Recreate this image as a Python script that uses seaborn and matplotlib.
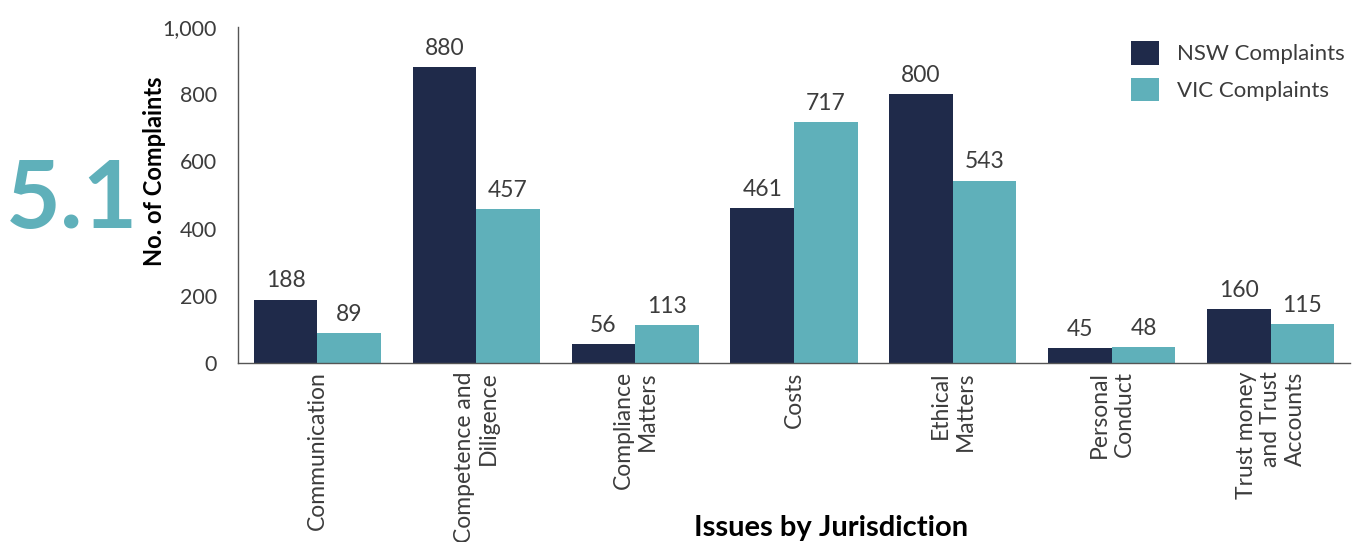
import matplotlib
matplotlib.use("Agg")
import matplotlib.pyplot as plt
import matplotlib.ticker as mticker
import seaborn as sns
import pandas as pd

categories = ["Communication", "Competence and\nDiligence", "Compliance\nMatters", "Costs",
              "Ethical\nMatters", "Personal\nConduct", "Trust money\nand Trust\nAccounts"]
nsw_values = [188, 880, 56, 461, 800, 45, 160]
vic_values = [89, 457, 113, 717, 543, 48, 115]
series_names = ["NSW Complaints", "VIC Complaints"]
y_ticks = [0, 200, 400, 600, 800, 1000]

NSW_COLOR = "#1f2a4a"
VIC_COLOR = "#5fb0ba"
TEXT = "#3c3c3c"
WEIGHT = "normal"

df = pd.DataFrame({
    "Issue": categories * 2,
    "Complaints": nsw_values + vic_values,
    "Jurisdiction": [series_names[0]] * len(categories) + [series_names[1]] * len(categories),
})

sns.set_style("white")
plt.rcParams["font.family"] = ["Lato", "DejaVu Sans"]

fig = plt.figure(figsize=(13.57, 5.42), dpi=100)
W, H = 1357, 542
ax = fig.add_axes([238 / W, 1 - 363 / H, (1350 - 238) / W, (363 - 27) / H])

sns.barplot(data=df, x="Issue", y="Complaints", hue="Jurisdiction",
            order=categories, hue_order=series_names,
            palette=[NSW_COLOR, VIC_COLOR], saturation=1, width=0.8,
            errorbar=None, linewidth=0, ax=ax)

ax.set_xlim(-0.5, len(categories) - 0.5)
ax.set_ylim(0, 1000)
ax.set_yticks(y_ticks)
ax.yaxis.set_major_formatter(mticker.StrMethodFormatter("{x:,.0f}"))
ax.tick_params(axis="y", length=0, pad=15, labelsize=15.5, labelcolor=TEXT)
ax.tick_params(axis="x", length=0, pad=6, labelsize=16.5, labelcolor=TEXT)
for lbl in ax.get_yticklabels():
    lbl.set_fontweight(WEIGHT)
for lbl in ax.get_xticklabels():
    lbl.set_rotation(90)
    lbl.set_multialignment("right")
    lbl.set_fontweight(WEIGHT)
    lbl.set_ha("center")
    lbl.set_va("top")

ax.set_xlabel("")
ax.set_ylabel("")
for side in ["top", "right"]:
    ax.spines[side].set_visible(False)
for side in ["left", "bottom"]:
    ax.spines[side].set_color("#555555")
    ax.spines[side].set_linewidth(1.0)

for cont in ax.containers:
    ax.bar_label(cont, padding=6, fontsize=16.5, color=TEXT, fontweight=WEIGHT)

leg = ax.legend(loc="upper left", bbox_to_anchor=(1131 / W, 1 - 41 / H),
                bbox_transform=fig.transFigure, frameon=False, borderpad=0,
                borderaxespad=0, fontsize=16, handlelength=1.25, handleheight=1.25,
                handletextpad=0.8, labelspacing=0.6)
for t in leg.get_texts():
    t.set_color(TEXT)
    t.set_fontweight(WEIGHT)

fig.text(72 / W, 1 - 228 / H, "5.1", color=VIC_COLOR, fontsize=68,
         fontweight="bold", ha="center", va="baseline")
fig.text(155 / W, 1 - 171 / H, "No. of Complaints", rotation=90, fontsize=17,
         fontweight="bold", color="black", ha="center", va="center")
fig.text(831 / W, 1 - 536 / H, "Issues by Jurisdiction", fontsize=21,
         fontweight="bold", color="black", ha="center", va="baseline")

fig.savefig("out.png", dpi=100, facecolor="white")
